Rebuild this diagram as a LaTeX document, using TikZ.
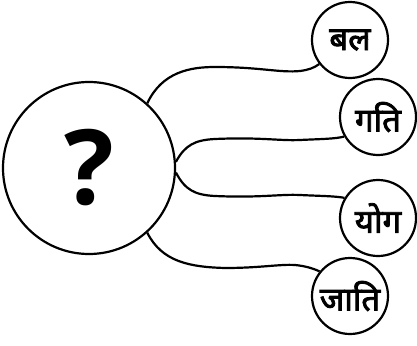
\documentclass[tikz,border=0pt]{standalone}
\usepackage{fontspec}
\newfontfamily\devfont[Script=Devanagari,FakeBold=2.5]{Noto Sans}
\newfontfamily\qfont{Open Sans}
\begin{document}
\begin{tikzpicture}[x=1pt,y=-1pt,
  ring/.style={circle,draw,line width=2.2pt,inner sep=0pt},
  small/.style={ring,minimum size=76pt,font=\devfont\fontsize{33}{33}\selectfont},
  link/.style={line width=2.2pt}]
\useasboundingbox (0,0) rectangle (417,345);
\node[ring,minimum size=172pt,font=\qfont\bfseries\fontsize{104}{104}\selectfont] (q) at (89,168) {?};
\node[small] (bal) at (350,40) {बल};
\node[small] (gati) at (378,117) {गति};
\node[small] (yog) at (378,218) {योग};
\node[small] (jati) at (350,296) {जाति};
\draw[link] (q.48) .. controls (162,72) and (190,67) .. (215,67)
  .. controls (260,67) and (280,73) .. (300,71) .. controls (308,70) and (314,68) .. (bal.218);
\draw[link] (q.4) .. controls (185,145) and (195,140) .. (215,139)
  .. controls (260,137) and (280,141) .. (300,140) .. controls (320,139) and (335,139) .. (gati.210);
\draw[link] (q.-3) .. controls (185,190) and (195,195) .. (215,196)
  .. controls (260,198) and (280,194) .. (300,195) .. controls (320,196) and (335,196) .. (yog.149);
\draw[link] (q.-48) .. controls (162,262) and (190,267) .. (225,268)
  .. controls (260,268) and (280,264) .. (295,265) .. controls (305,266) and (312,268) .. (jati.141);
\end{tikzpicture}
\end{document}
